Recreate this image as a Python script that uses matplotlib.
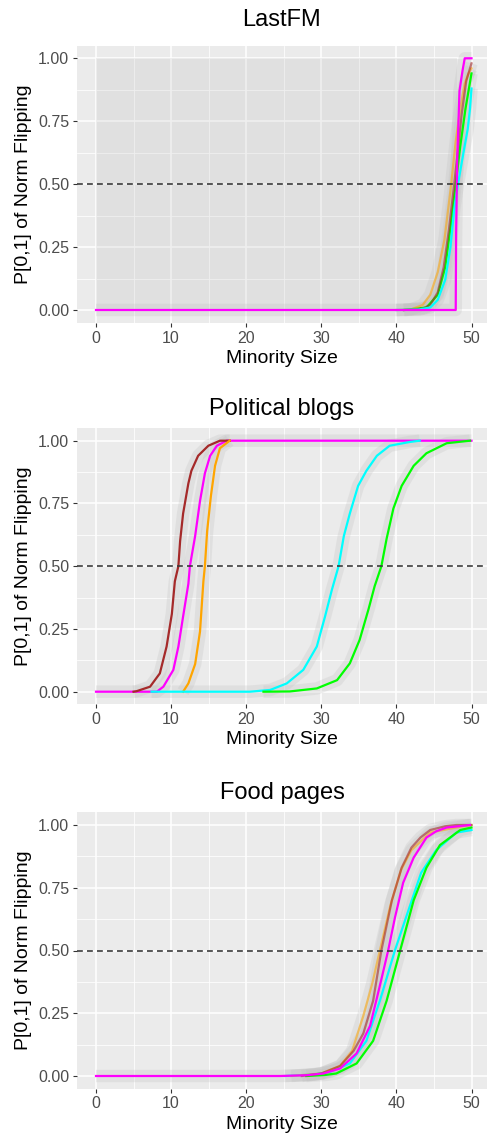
import matplotlib
matplotlib.use("Agg")
import matplotlib.pyplot as plt
from matplotlib.ticker import MultipleLocator

plt.rcParams['font.family'] = ['Liberation Sans', 'DejaVu Sans']

# ---------------- data ----------------
panel_titles = ["LastFM", "Political blogs", "Food pages"]
x_ticks = [0, 10, 20, 30, 40, 50]
y_ticks = [0.0, 0.25, 0.50, 0.75, 1.0]
y_tick_labels = ["0.00", "0.25", "0.50", "0.75", "1.00"]
x_label = "Minority Size"
y_label = "P[0,1] of Norm Flipping"
threshold = 0.5

# LastFM
lfm_green_x = [41, 44, 45.5, 46.5, 47.3, 47.9, 48.5, 49.2, 50]
lfm_green_y = [0, 0.01, 0.06, 0.17, 0.35, 0.5, 0.65, 0.8, 0.94]
lfm_orange_x = [40, 42, 43.5, 44.5, 45.5, 46.4, 47.3, 47.9, 48.5, 49.1, 49.6, 50]
lfm_orange_y = [0, 0.003, 0.02, 0.06, 0.15, 0.28, 0.5, 0.67, 0.8, 0.9, 0.94, 0.96]
lfm_brown_x = [41, 43.5, 44.5, 45.5, 46.3, 47.0, 47.7, 48.2, 48.7, 49.3, 50]
lfm_brown_y = [0, 0.005, 0.02, 0.07, 0.17, 0.32, 0.5, 0.64, 0.78, 0.91, 0.98]
lfm_cyan_x = [40, 43, 44.5, 45.5, 46.5, 47.2, 47.7, 48.2, 48.9, 49.5, 49.8, 50]
lfm_cyan_y = [0, 0.002, 0.01, 0.04, 0.12, 0.25, 0.4, 0.5, 0.62, 0.72, 0.8, 0.88]
lfm_magenta_x = [0, 47.9, 47.95, 48.1, 48.4, 48.8, 49.1, 50]
lfm_magenta_y = [0, 0, 0.30, 0.6, 0.87, 0.95, 1.0, 1.0]
lfm_band_x = [0, 48.1]
lfm_band_lo = 0.0
lfm_band_hi = 1.0

# Political blogs
pb_magenta_x = [0, 8.1, 8.97, 10.3, 10.97, 11.6, 12.3, 12.5, 13.2, 13.85, 14.5,
                15.2, 16.1, 17.4, 50]
pb_magenta_y = [0, 0, 0.02, 0.087, 0.18, 0.30, 0.43, 0.5, 0.62, 0.76, 0.87,
                0.94, 0.98, 1.0, 1.0]
pb_brown_x = [5.0, 5.4, 7.2, 8.5, 9.4, 10.1, 10.5, 10.97, 11.2, 11.6, 12.3, 12.7,
              13.6, 14.96, 16.5, 17.8]
pb_brown_y = [0, 0.002, 0.02, 0.073, 0.18, 0.31, 0.44, 0.5, 0.6, 0.71, 0.83, 0.88,
              0.94, 0.98, 1.0, 1.0]
pb_orange_x = [11.6, 12.3, 13.2, 13.85, 14.3, 14.5, 14.8, 15.3, 15.85, 16.5, 17.8]
pb_orange_y = [0, 0.033, 0.11, 0.24, 0.44, 0.5, 0.64, 0.78, 0.9, 0.97, 1.0]
pb_cyan_x = [7.4, 20.5, 23.2, 25.4, 27.6, 29.4, 30.5, 31.4, 32.3, 33.0, 33.8, 34.9,
             36.0, 37.4, 39.1, 41.8, 43.1]
pb_cyan_y = [0, 0, 0.007, 0.033, 0.087, 0.18, 0.3, 0.405, 0.5, 0.62, 0.71, 0.82,
             0.88, 0.94, 0.98, 0.995, 1.0]
pb_green_x = [22.3, 25.8, 29.4, 32.1, 33.8, 35.1, 36.3, 37.1, 38.0, 38.7, 39.6,
              40.7, 42.3, 44.0, 46.7, 49.8]
pb_green_y = [0, 0.001, 0.013, 0.046, 0.113, 0.206, 0.33, 0.42, 0.5, 0.61, 0.73,
              0.82, 0.9, 0.95, 0.99, 1.0]

# Food pages
fp_cyan_x = [25.2, 29.0, 31.2, 33.8, 36.0, 37.8, 39.8, 41.6, 43.3, 45.3, 48.0, 50.0]
fp_cyan_y = [0, 0.006, 0.017, 0.05, 0.14, 0.3, 0.5, 0.66, 0.81, 0.9, 0.97, 0.98]
fp_green_x = [28, 30.5, 32.0, 34.7, 36.9, 38.7, 40.5, 42.3, 44.0, 45.8, 48.5, 50]
fp_green_y = [0, 0.004, 0.01, 0.05, 0.14, 0.3, 0.5, 0.7, 0.83, 0.92, 0.98, 0.99]
fp_orange_x = [26, 30, 32.5, 34.1, 35.6, 36.8, 37.8, 39.2, 40.6, 42, 44.5, 48, 50]
fp_orange_y = [0, 0.01, 0.04, 0.1, 0.24, 0.37, 0.5, 0.68, 0.82, 0.9, 0.97, 0.99, 1.0]
fp_brown_x = [27.4, 30.0, 32.5, 34.3, 35.6, 36.9, 38.0, 39.4, 40.7, 42.0, 43.2, 44.5,
              46.5, 48.0, 50]
fp_brown_y = [0, 0.01, 0.04, 0.1, 0.17, 0.3, 0.5, 0.7, 0.83, 0.91, 0.95, 0.98,
              0.995, 1.0, 1.0]
fp_magenta_x = [0, 24.5, 28.0, 30.3, 32.5, 34.7, 36.5, 37.8, 38.9, 39.8, 40.9, 42.3,
                44.0, 45.3, 46.7, 49.8]
fp_magenta_y = [0, 0, 0.003, 0.01, 0.03, 0.09, 0.2, 0.36, 0.5, 0.63, 0.77, 0.87,
                0.95, 0.975, 0.99, 1.0]

# colours
C_BROWN = "#A52A2A"
C_ORANGE = "#FFA500"
C_MAGENTA = "#FF00FF"
C_CYAN = "#00FFFF"
C_GREEN = "#00FF00"

# --------------- figure ---------------
W, H = 487, 1141
fig = plt.figure(figsize=(W / 100, H / 100), dpi=100)


def rect(left, top, right, bottom):
    return [left / W, 1 - bottom / H, (right - left) / W, (bottom - top) / H]


# y pixel positions of 1.00 and 0.00 for each panel
panel_y = [(58.3, 310.0), (440.7, 691.7), (825.0, 1076.0)]
title_y = [20, 409, 793]
x0_px, x50_px = 96.0, 471.5
ppu = (x50_px - x0_px) / 50.0
left_px, right_px = 77, 487
xlim = ((left_px - x0_px) / ppu, (right_px - x0_px) / ppu)

series = [
    [(lfm_green_x, lfm_green_y, C_GREEN, 1.0),
     (lfm_orange_x, lfm_orange_y, C_ORANGE, 0.55),
     (lfm_brown_x, lfm_brown_y, C_BROWN, 0.6),
     (lfm_cyan_x, lfm_cyan_y, C_CYAN, 1.0),
     (lfm_magenta_x, lfm_magenta_y, C_MAGENTA, 1.0)],
    [(pb_magenta_x, pb_magenta_y, C_MAGENTA, 1.0),
     (pb_brown_x, pb_brown_y, C_BROWN, 1.0),
     (pb_orange_x, pb_orange_y, C_ORANGE, 1.0),
     (pb_cyan_x, pb_cyan_y, C_CYAN, 1.0),
     (pb_green_x, pb_green_y, C_GREEN, 1.0)],
    [(fp_cyan_x, fp_cyan_y, C_CYAN, 1.0),
     (fp_green_x, fp_green_y, C_GREEN, 1.0),
     (fp_orange_x, fp_orange_y, C_ORANGE, 0.55),
     (fp_brown_x, fp_brown_y, C_BROWN, 0.6),
     (fp_magenta_x, fp_magenta_y, C_MAGENTA, 1.0)],
]

for i in range(3):
    y1, y0 = panel_y[i]
    ppy = y0 - y1
    top = y1 - 0.05 * ppy
    bottom = y0 + 0.05 * ppy
    ax = fig.add_axes(rect(left_px, top, right_px, bottom))
    ax.set_facecolor("#EBEBEB")
    for s in ax.spines.values():
        s.set_visible(False)
    ax.set_xlim(*xlim)
    ax.set_ylim(-0.05, 1.05)
    ax.xaxis.set_major_locator(MultipleLocator(10))
    ax.xaxis.set_minor_locator(MultipleLocator(5))
    ax.yaxis.set_major_locator(MultipleLocator(0.25))
    ax.yaxis.set_minor_locator(MultipleLocator(0.125))
    ax.set_xticks(x_ticks)
    ax.set_yticks(y_ticks)
    ax.set_yticklabels(y_tick_labels)
    ax.grid(which="major", color="white", lw=1.1)
    ax.grid(which="minor", color="white", lw=0.55)
    ax.set_axisbelow(True)
    ax.tick_params(which="major", length=3.2, width=0.8, color="#333333",
                   labelsize=11.5, labelcolor="#4D4D4D", pad=2.5)
    ax.tick_params(which="minor", length=0)

    if i == 0:
        ax.fill_between(lfm_band_x, lfm_band_lo, lfm_band_hi,
                        color="#BDBDBD", alpha=0.22, lw=0, zorder=1.5)

    # grey confidence ribbons
    for xs, ys, c, a in series[i]:
        ax.plot(xs, ys, color="#BEBEBE", alpha=0.25, lw=9,
                solid_capstyle="butt", solid_joinstyle="round", zorder=2)
    for xs, ys, c, a in series[i]:
        ax.plot(xs, ys, color=c, alpha=a, lw=1.6, zorder=3,
                solid_joinstyle="round")

    ax.axhline(threshold, color="#3A3A3A", lw=1.2, ls=(0, (3.5, 2.5)), zorder=4)

    ax.set_xlabel(x_label, fontsize=14, labelpad=3)
    ax.set_ylabel(y_label, fontsize=14, labelpad=4)
    fig.text((left_px + right_px) / 2 / W, 1 - title_y[i] / H, panel_titles[i],
             fontsize=17, ha="center", va="center")

fig.savefig("out.png", dpi=100)
